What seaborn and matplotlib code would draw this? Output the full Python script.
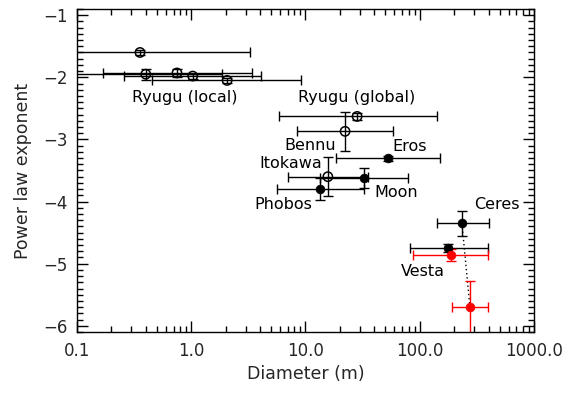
import numpy as np
import pandas as pd
import matplotlib
matplotlib.use("Agg")
import matplotlib.pyplot as plt
import matplotlib.ticker as mticker
import seaborn as sns

# ---- data ----
# Ryugu local (open circles)
local_d = [0.356, 0.40, 0.75, 1.03, 2.06]
local_dlo = [0.039, 0.087, 0.169, 0.258, 0.453]
local_dhi = [3.27, 1.86, 3.40, 4.07, 9.14]
local_p = [-1.60, -1.95, -1.93, -1.98, -2.05]
local_perr = [0.04, 0.09, 0.06, 0.04, 0.04]

# bodies
body_names = ["Ryugu (global)", "Bennu", "Itokawa", "Eros", "Moon", "Phobos", "Ceres", "Vesta"]
body_d = [28.3, 22.2, 15.7, 52.7, 32.5, 13.4, 234.0, 176.6]
body_dlo = [5.86, 8.4, 7.0, 18.5, 13.4, 5.6, 141.5, 82.0]
body_dhi = [141.0, 58.3, 35.0, 150.0, 79.0, 32.5, 404.0, 395.0]
body_p = [-2.63, -2.87, -3.60, -3.30, -3.62, -3.80, -4.35, -4.75]
body_perr = [0.05, 0.31, 0.31, 0.04, 0.16, 0.18, 0.20, 0.07]
body_open = [True, True, True, False, False, False, False, False]

# red (revised) points
red_d = [187.5, 275.0]
red_dlo = [87.0, 191.5]
red_dhi = [395.0, 395.0]
red_p = [-4.86, -5.70]
red_perr = [0.09, 0.42]

# text labels
label_text = ["Ryugu (local)", "Ryugu (global)", "Bennu", "Eros", "Itokawa", "Moon", "Phobos", "Ceres", "Vesta"]
label_x = [0.88, 28.3, 11.0, 82.0, 7.5, 62.0, 6.35, 474.0, 107.0]
label_y = [-2.33, -2.32, -3.09, -3.11, -3.38, -3.85, -4.04, -4.04, -5.13]

xticks = [0.1, 1.0, 10.0, 100.0, 1000.0]
xticklabels = ["0.1", "1.0", "10.0", "100.0", "1000.0"]
yticks = [-6, -5, -4, -3, -2, -1]
yticklabels = ["\u22126", "\u22125", "\u22124", "\u22123", "\u22122", "\u22121"]

sns.set_style("ticks")
plt.rcParams['font.family'] = ['DejaVu Sans']

fig = plt.figure(figsize=(5.69, 3.94), dpi=100)
ax = fig.add_axes([0.1353, 0.1574, 0.8032, 0.8198])
ax.set_xscale("log")

lw = 1.0
cap = 3.5

def draw(d, dlo, dhi, p, perr, color, opened):
    d = np.asarray(d); dlo = np.asarray(dlo); dhi = np.asarray(dhi)
    xerr = np.vstack([d - dlo, dhi - d])
    ax.errorbar(d, p, xerr=xerr, yerr=perr, fmt="none", ecolor=color,
                elinewidth=lw, capsize=cap, capthick=lw, zorder=2)
    df = pd.DataFrame({"d": d, "p": p})
    if opened:
        sns.scatterplot(data=df, x="d", y="p", ax=ax, marker="o", s=45,
                        facecolor="none", edgecolor=color, linewidth=1.1, zorder=3)
    else:
        sns.scatterplot(data=df, x="d", y="p", ax=ax, marker="o", s=40,
                        color=color, edgecolor=color, linewidth=0.5, zorder=3)

draw(local_d, local_dlo, local_dhi, local_p, local_perr, "black", True)
for i in range(len(body_names)):
    draw([body_d[i]], [body_dlo[i]], [body_dhi[i]], [body_p[i]], [body_perr[i]],
         "black", body_open[i])
draw(red_d, red_dlo, red_dhi, red_p, red_perr, "#ff0000", False)

# dotted connection Ceres -> revised Ceres
ci = body_names.index("Ceres")
sns.lineplot(x=[body_d[ci], red_d[1]], y=[body_p[ci], red_p[1]], ax=ax,
             color="black", linestyle=(0, (1, 2)), linewidth=1.0, zorder=1,
             estimator=None, sort=False)

for t, x, y in zip(label_text, label_x, label_y):
    ax.text(x, y, t, ha="center", va="center", fontsize=11.5, color="black")

ax.set_xlim(0.1, 1000)
ax.set_ylim(-6.1, -0.9)
ax.xaxis.set_major_locator(mticker.FixedLocator(xticks))
ax.xaxis.set_major_formatter(mticker.FixedFormatter(xticklabels))
ax.xaxis.set_minor_locator(mticker.LogLocator(base=10, subs=np.arange(2, 10)))
ax.xaxis.set_minor_formatter(mticker.NullFormatter())
ax.yaxis.set_major_locator(mticker.FixedLocator(yticks))
ax.yaxis.set_major_formatter(mticker.FixedFormatter(yticklabels))
ax.yaxis.set_minor_locator(mticker.MultipleLocator(0.1))

ax.tick_params(which="both", direction="in", top=True, right=True, color="black", width=1.0)
ax.tick_params(which="major", length=8, labelsize=12, pad=7)
ax.tick_params(which="minor", length=4)
for s in ax.spines.values():
    s.set_linewidth(1.0)
    s.set_color("black")

ax.set_xlabel("Diameter (m)", fontsize=12.5, labelpad=4)
ax.set_ylabel("Power law exponent", fontsize=12.5, labelpad=8)

fig.savefig("out.png", dpi=100, facecolor="white")
